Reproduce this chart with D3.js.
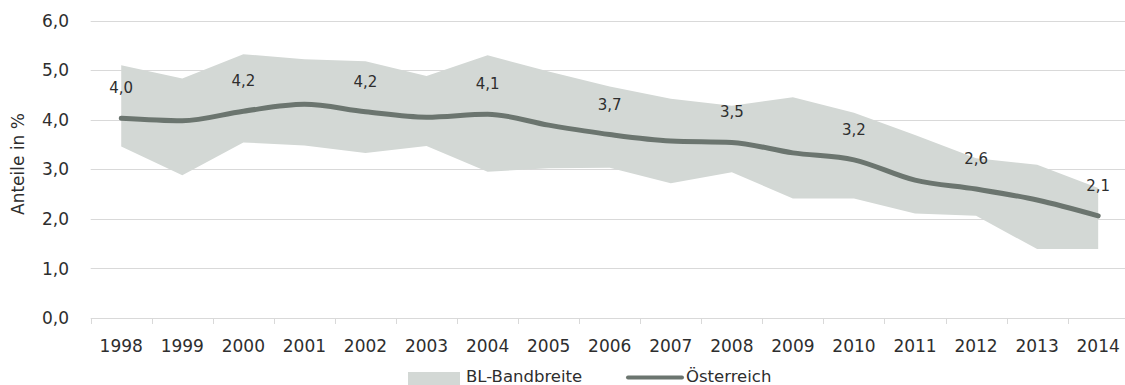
<!DOCTYPE html>
<html>
<head>
<meta charset="utf-8">
<script src="https://cdn.jsdelivr.net/npm/d3@7"></script>
<style>
  body { margin: 0; background: #fff; }
  svg text { font-family: "DejaVu Sans", Verdana, sans-serif; fill: #2e2e2e; }
</style>
</head>
<body>
<div id="chart"></div>
<script>
// Data
const years = ["1998", "1999", "2000", "2001", "2002", "2003", "2004", "2005", "2006",
               "2007", "2008", "2009", "2010", "2011", "2012", "2013", "2014"];
const oesterreich = [4.03, 3.98, 4.17, 4.31, 4.16, 4.05, 4.11, 3.89, 3.70,
                     3.57, 3.54, 3.33, 3.19, 2.78, 2.60, 2.38, 2.06];
const bandUpper = [5.10, 4.83, 5.32, 5.22, 5.18, 4.88, 5.30, 4.97, 4.67,
                   4.42, 4.28, 4.45, 4.14, 3.69, 3.22, 3.09, 2.62];
const bandLower = [3.46, 2.88, 3.54, 3.48, 3.33, 3.47, 2.95, 3.02, 3.03,
                   2.72, 2.94, 2.41, 2.41, 2.11, 2.06, 1.39, 1.39];
const yTicks = [0, 1, 2, 3, 4, 5, 6];

const totalWidth = 1125, totalHeight = 385;
const margin = { top: 20.5, left: 90.7, bottom: 67 };
const plotBottom = totalHeight - margin.bottom; // 318
const step = 61.06;

const svg = d3.select("#chart")
    .append("svg")
    .attr("width", totalWidth)
    .attr("height", totalHeight);

// Scales
const x = d3.scaleBand()
    .domain(years)
    .range([margin.left, margin.left + step * years.length])
    .padding(0);

const y = d3.scaleLinear()
    .domain([0, 6])
    .range([plotBottom, margin.top]);

const cx = d => x(d) + x.bandwidth() / 2;
const fmt = v => d3.format(".1f")(v).replace(".", ",");

// Gridlines
svg.append("g")
    .selectAll("line")
    .data(yTicks)
    .enter()
    .append("line")
    .attr("x1", margin.left)
    .attr("x2", totalWidth)
    .attr("y1", d => Math.round(y(d)) + 0.5)
    .attr("y2", d => Math.round(y(d)) + 0.5)
    .style("stroke", "#d9d9d9")
    .style("stroke-width", 1);

// Category tick marks at band edges
const edges = years.map(d => x(d));
svg.append("g")
    .selectAll("line")
    .data(edges)
    .enter()
    .append("line")
    .attr("x1", d => Math.round(d) + 0.5)
    .attr("x2", d => Math.round(d) + 0.5)
    .attr("y1", Math.round(plotBottom))
    .attr("y2", Math.round(plotBottom) + 6)
    .style("stroke", "#d9d9d9")
    .style("stroke-width", 1);

// Y tick labels
svg.append("g")
    .selectAll("text")
    .data(yTicks)
    .enter()
    .append("text")
    .attr("x", 69)
    .attr("y", d => y(d))
    .attr("dy", "0.36em")
    .attr("text-anchor", "end")
    .style("font-size", "17px")
    .text(d => fmt(d));

// X labels
svg.append("g")
    .selectAll("text")
    .data(years)
    .enter()
    .append("text")
    .attr("x", d => cx(d))
    .attr("y", 352)
    .attr("text-anchor", "middle")
    .style("font-size", "17px")
    .text(d => d);

// Y axis title
svg.append("text")
    .attr("transform", `translate(24,${164}) rotate(-90)`)
    .attr("text-anchor", "middle")
    .style("font-size", "17px")
    .text("Anteile in %");

// Band (BL-Bandbreite)
const area = d3.area()
    .x((d, i) => cx(years[i]))
    .y0((d, i) => y(bandLower[i]))
    .y1((d, i) => y(bandUpper[i]));

svg.append("path")
    .datum(years)
    .attr("d", area)
    .style("fill", "#d3d8d5");

// Line (Österreich)
const line = d3.line()
    .x((d, i) => cx(years[i]))
    .y(d => y(d))
    .curve(d3.curveMonotoneX);

svg.append("path")
    .datum(oesterreich)
    .attr("d", line)
    .style("fill", "none")
    .style("stroke", "#6b756f")
    .style("stroke-width", 5)
    .style("stroke-linecap", "round");

// Value labels on every other year
svg.append("g")
    .selectAll("text")
    .data(oesterreich.filter((d, i) => i % 2 === 0))
    .enter()
    .append("text")
    .attr("x", (d, i) => cx(years[i * 2]))
    .attr("y", d => y(d) - 25)
    .attr("text-anchor", "middle")
    .style("font-size", "15px")
    .text(d => fmt(d));

// Legend
const legend = svg.append("g");
legend.append("rect")
    .attr("x", 408)
    .attr("y", 372)
    .attr("width", 52)
    .attr("height", 13)
    .style("fill", "#d3d8d5");
legend.append("text")
    .attr("x", 466)
    .attr("y", 382)
    .style("font-size", "16.5px")
    .text("BL-Bandbreite");
legend.append("line")
    .attr("x1", 628)
    .attr("x2", 682)
    .attr("y1", 377.5)
    .attr("y2", 377.5)
    .style("stroke", "#6b756f")
    .style("stroke-width", 4)
    .style("stroke-linecap", "round");
legend.append("text")
    .attr("x", 686)
    .attr("y", 382)
    .style("font-size", "16.5px")
    .text("Österreich");
</script>
</body>
</html>
